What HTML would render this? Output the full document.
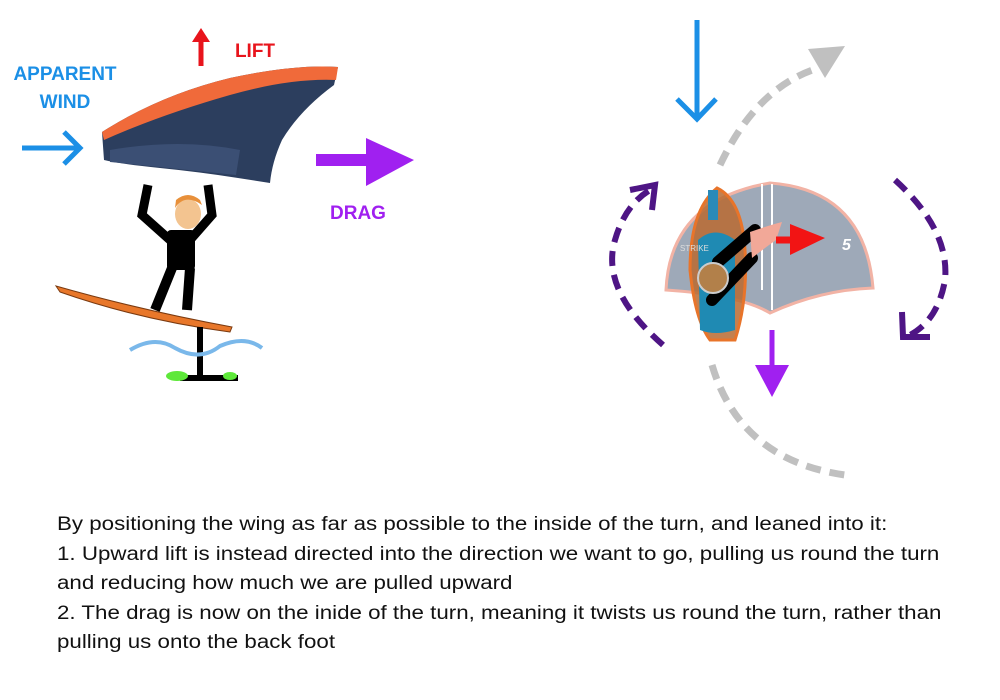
<!DOCTYPE html>
<html><head><meta charset="utf-8"><style>
body{margin:0;background:#fff;width:1000px;height:700px;overflow:hidden;font-family:"Liberation Sans",sans-serif}
.t{position:absolute;left:57px;top:510px;font-size:19px;line-height:29.6px;color:#111;white-space:nowrap;transform:scaleX(1.175);transform-origin:0 0}
</style></head><body>
<svg width="1000" height="700" style="position:absolute;left:0;top:0">
<text x="65" y="80" font-size="19" font-weight="bold" fill="#1b8fe6" text-anchor="middle">APPARENT</text>
<text x="65" y="108" font-size="19" font-weight="bold" fill="#1b8fe6" text-anchor="middle">WIND</text>
<text x="255" y="57" font-size="19" font-weight="bold" fill="#e8141c" text-anchor="middle">LIFT</text>
<text x="358" y="219" font-size="19" font-weight="bold" fill="#a020f0" text-anchor="middle">DRAG</text>
<path d="M22 148 H78 M64 132 L80 148 L64 164" stroke="#1b8fe6" stroke-width="5" fill="none"/>
<path d="M201 66 V40" stroke="#e8141c" stroke-width="5"/>
<polygon points="192,42 201,28 210,42" fill="#e8141c"/>
<path d="M316 160 H370" stroke="#a020f0" stroke-width="12"/>
<polygon points="366,138 414,160 366,186" fill="#a020f0"/>
<path d="M102 132 Q160 95 230 78 Q295 64 338 67 L334 85 Q300 110 282 140 Q272 162 270 183 L238 178 Q200 172 160 168 Q120 164 104 160 Z" fill="#2c3e5e"/>
<path d="M102 132 Q160 95 230 78 Q295 64 338 67 L336 80 Q290 78 230 95 Q160 115 104 140 Z" fill="#f06a3a"/>
<path d="M110 150 Q180 138 240 150 L236 175 Q190 170 110 162 Z" fill="#3b4f74"/>
<path d="M148 185 L142 215 L170 240 M208 185 L212 215 L190 240" stroke="#000" stroke-width="9" fill="none"/>
<rect x="167" y="230" width="28" height="40" fill="#000" rx="4"/>
<path d="M172 268 L155 310 M190 268 L187 310" stroke="#000" stroke-width="10"/>
<ellipse cx="188" cy="214" rx="13" ry="15" fill="#f3c490"/>
<path d="M175 208 Q185 193 202 205 L200 200 Q188 190 176 200Z" fill="#e8903a"/>
<path d="M56 286 Q140 310 232 327 L230 332 Q140 320 60 292 Z" fill="#e8772a" stroke="#7a3a10" stroke-width="1"/>
<path d="M200 327 V378 M180 378 H238" stroke="#000" stroke-width="6"/>
<path d="M130 350 Q155 335 175 348 Q200 362 220 346 Q245 335 262 348" stroke="#7ab8ea" stroke-width="4" fill="none"/>
<ellipse cx="177" cy="376" rx="11" ry="5" fill="#5ee83a"/>
<ellipse cx="230" cy="376" rx="7" ry="4" fill="#5ee83a"/>
<path d="M697 20 V117 M677 99 L697 119 L716 99" stroke="#1b8fe6" stroke-width="5" fill="none"/>
<path d="M720 165 Q760 80 830 65" stroke="#c0c0c0" stroke-width="7" fill="none" stroke-dasharray="15,9"/>
<polygon points="808,49 845,46 825,78" fill="#c0c0c0"/>
<path d="M712 365 Q740 460 845 475" stroke="#c0c0c0" stroke-width="7" fill="none" stroke-dasharray="15,9"/>
<path d="M663 345 Q600 290 615 240 Q625 205 650 190" stroke="#4e1585" stroke-width="6" fill="none" stroke-dasharray="15,9"/>
<path d="M630 190 L655 185 L652 210" stroke="#4e1585" stroke-width="6" fill="none"/>
<path d="M895 180 Q950 230 945 280 Q938 320 910 335" stroke="#4e1585" stroke-width="6" fill="none" stroke-dasharray="15,9"/>
<path d="M902 312 L903 337 L930 337" stroke="#4e1585" stroke-width="6" fill="none"/>
<path d="M666 290 Q670 200 770 183 Q865 190 873 288 Q820 290 770 313 Q740 295 666 290 Z" fill="#9ea9b8" stroke="#f2b3a5" stroke-width="3"/>
<path d="M762 184 V290 M772 184 V310" stroke="#fff" stroke-width="2"/>
<text x="842" y="250" font-size="16" font-weight="bold" fill="#fff" font-style="italic">5</text>
<path d="M717 188 Q690 210 690 270 Q695 320 710 340 H735 Q748 300 745 250 Q742 200 717 188 Z" fill="#b86a30" fill-opacity="0.85" stroke="#e8742a" stroke-width="3"/>
<rect x="708" y="190" width="10" height="30" fill="#2a8ab8"/>
<path d="M698 240 Q715 225 735 240 L735 330 Q715 336 700 330 Z" fill="#1f8ab3"/>
<text x="680" y="251" font-size="8" fill="#ddd">STRIKE</text>
<path d="M718 262 L755 230 M712 300 L752 258" stroke="#000" stroke-width="12" stroke-linecap="round"/>
<circle cx="713" cy="278" r="15" fill="#b2804a" stroke="#ccc" stroke-width="2"/>
<path d="M750 232 Q770 225 782 222 L776 240 Q762 250 752 258" fill="#f2a898"/>
<path d="M776 240 H800" stroke="#f21414" stroke-width="7"/>
<polygon points="790,224 825,238 790,255" fill="#f21414"/>
<path d="M772 330 V368" stroke="#a020f0" stroke-width="5"/>
<polygon points="755,365 789,365 772,397" fill="#a020f0"/>
</svg>
<div class="t">By positioning the wing as far as possible to the inside of the turn, and leaned into it:<br>1. Upward lift is instead directed into the direction we want to go, pulling us round the turn<br>and reducing how much we are pulled upward<br>2. The drag is now on the inide of the turn, meaning it twists us round the turn, rather than<br>pulling us onto the back foot</div>
</body></html>
